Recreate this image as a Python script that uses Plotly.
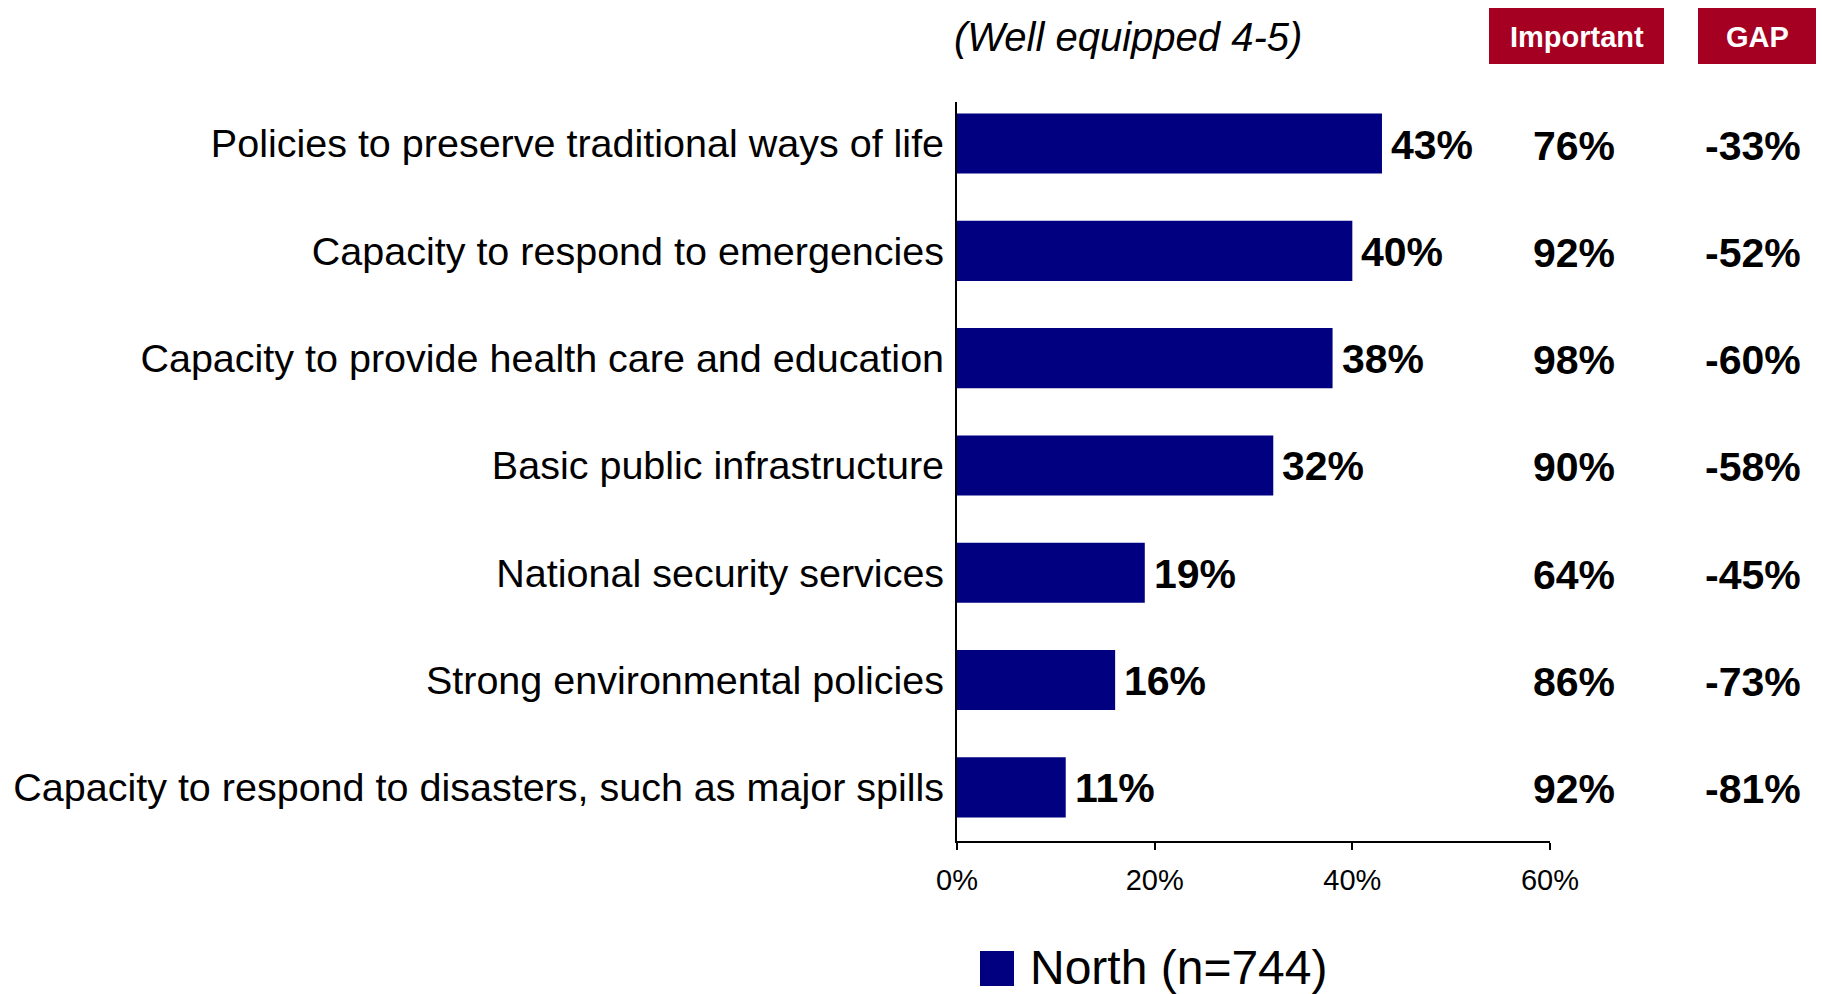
import plotly.graph_objects as go

categories = [
    "Policies to preserve traditional ways of life",
    "Capacity to respond to emergencies",
    "Capacity to provide health care and education",
    "Basic public infrastructure",
    "National security services",
    "Strong environmental policies",
    "Capacity to respond to disasters, such as major spills",
]
well_equipped = [43, 40, 38, 32, 19, 16, 11]
important = [76, 92, 98, 90, 64, 86, 92]
gap = [-33, -52, -60, -58, -45, -73, -81]
x_ticks = [0, 20, 40, 60]
x_tick_labels = ["0%", "20%", "40%", "60%"]
series_name = "North (n=744)"
header_note = "(Well equipped 4-5)"
col_headers = ["Important", "GAP"]

FONT = "Liberation Sans, Arial, sans-serif"
NAVY = "#000080"
RED = "#A50021"

W, H = 1823, 994
def px(x):
    return x / W
def py(y):
    return 1 - y / H

fig = go.Figure()
fig.add_trace(go.Bar(
    x=well_equipped, y=categories, orientation="h",
    marker=dict(color=NAVY, line=dict(width=0)),
    width=0.56, showlegend=False, hoverinfo="skip",
))

annotations = []
for c, v in zip(categories, well_equipped):
    annotations.append(dict(
        x=v, y=c, xref="x", yref="y", text=f"{v}%", showarrow=False,
        xanchor="left", yanchor="middle", xshift=7, yshift=-1,
        font=dict(family=FONT, size=41, color="black", weight="bold"),
    ))
col_x = [px(1574), px(1753)]
for c, v1, v2 in zip(categories, important, gap):
    annotations.append(dict(
        x=col_x[0], y=c, xref="paper", yref="y", text=f"{v1}%", showarrow=False,
        xanchor="center", yanchor="middle", yshift=-2,
        font=dict(family=FONT, size=41, color="black", weight="bold"),
    ))
    annotations.append(dict(
        x=col_x[1], y=c, xref="paper", yref="y", text=f"{v2}%", showarrow=False,
        xanchor="center", yanchor="middle", yshift=-2,
        font=dict(family=FONT, size=41, color="black", weight="bold"),
    ))

# column header boxes
shapes = []
boxes = [(1489, 1664), (1698, 1816)]
for (x0, x1), label in zip(boxes, col_headers):
    shapes.append(dict(type="rect", xref="paper", yref="paper",
                       x0=px(x0), x1=px(x1), y0=py(64), y1=py(8),
                       fillcolor=RED, line=dict(width=0), layer="below"))
    annotations.append(dict(
        x=px((x0 + x1) / 2), y=py(37), xref="paper", yref="paper", text=label,
        showarrow=False, xanchor="center", yanchor="middle",
        font=dict(family=FONT, size=29, color="white", weight="bold"),
    ))

annotations.append(dict(
    x=px(1128), y=py(37), xref="paper", yref="paper",
    text=f"<i>{header_note}</i>", showarrow=False, xanchor="center", yanchor="middle",
    font=dict(family=FONT, size=40, color="black"),
))

# legend swatch + label
shapes.append(dict(type="rect", xref="paper", yref="paper",
                   x0=px(980), x1=px(1014), y0=py(986), y1=py(951),
                   fillcolor=NAVY, line=dict(width=0)))
annotations.append(dict(
    x=px(1028), y=py(967), xref="paper", yref="paper", text=series_name,
    showarrow=False, xanchor="left", yanchor="middle",
    font=dict(family=FONT, size=48, color="black"),
))

fig.update_layout(
    width=W, height=H, margin=dict(l=0, r=0, t=0, b=0),
    paper_bgcolor="white", plot_bgcolor="white",
    annotations=annotations, shapes=shapes,
    xaxis=dict(
        domain=[px(957), px(1550)], range=[0, 60], automargin=False,
        tickvals=x_ticks, ticktext=x_tick_labels,
        showgrid=False, zeroline=False, showline=True, linecolor="black", linewidth=2,
        ticks="outside", ticklen=7, tickwidth=2, tickcolor="black",
        tickfont=dict(family=FONT, size=29, color="black"), ticklabelstandoff=5,
        fixedrange=True,
    ),
    yaxis=dict(
        domain=[py(841), py(102)], range=[6.5, -0.387], automargin=False,
        categoryorder="array", categoryarray=categories, type="category",
        showgrid=False, zeroline=False, showline=True, linecolor="black", linewidth=2,
        ticks="", tickfont=dict(family=FONT, size=39.5, color="black"),
        ticklabelstandoff=3, fixedrange=True,
    ),
)

fig.write_html("out.html", config={"displayModeBar": False},
               post_script="document.body.style.margin='0';document.body.style.overflow='hidden';")
